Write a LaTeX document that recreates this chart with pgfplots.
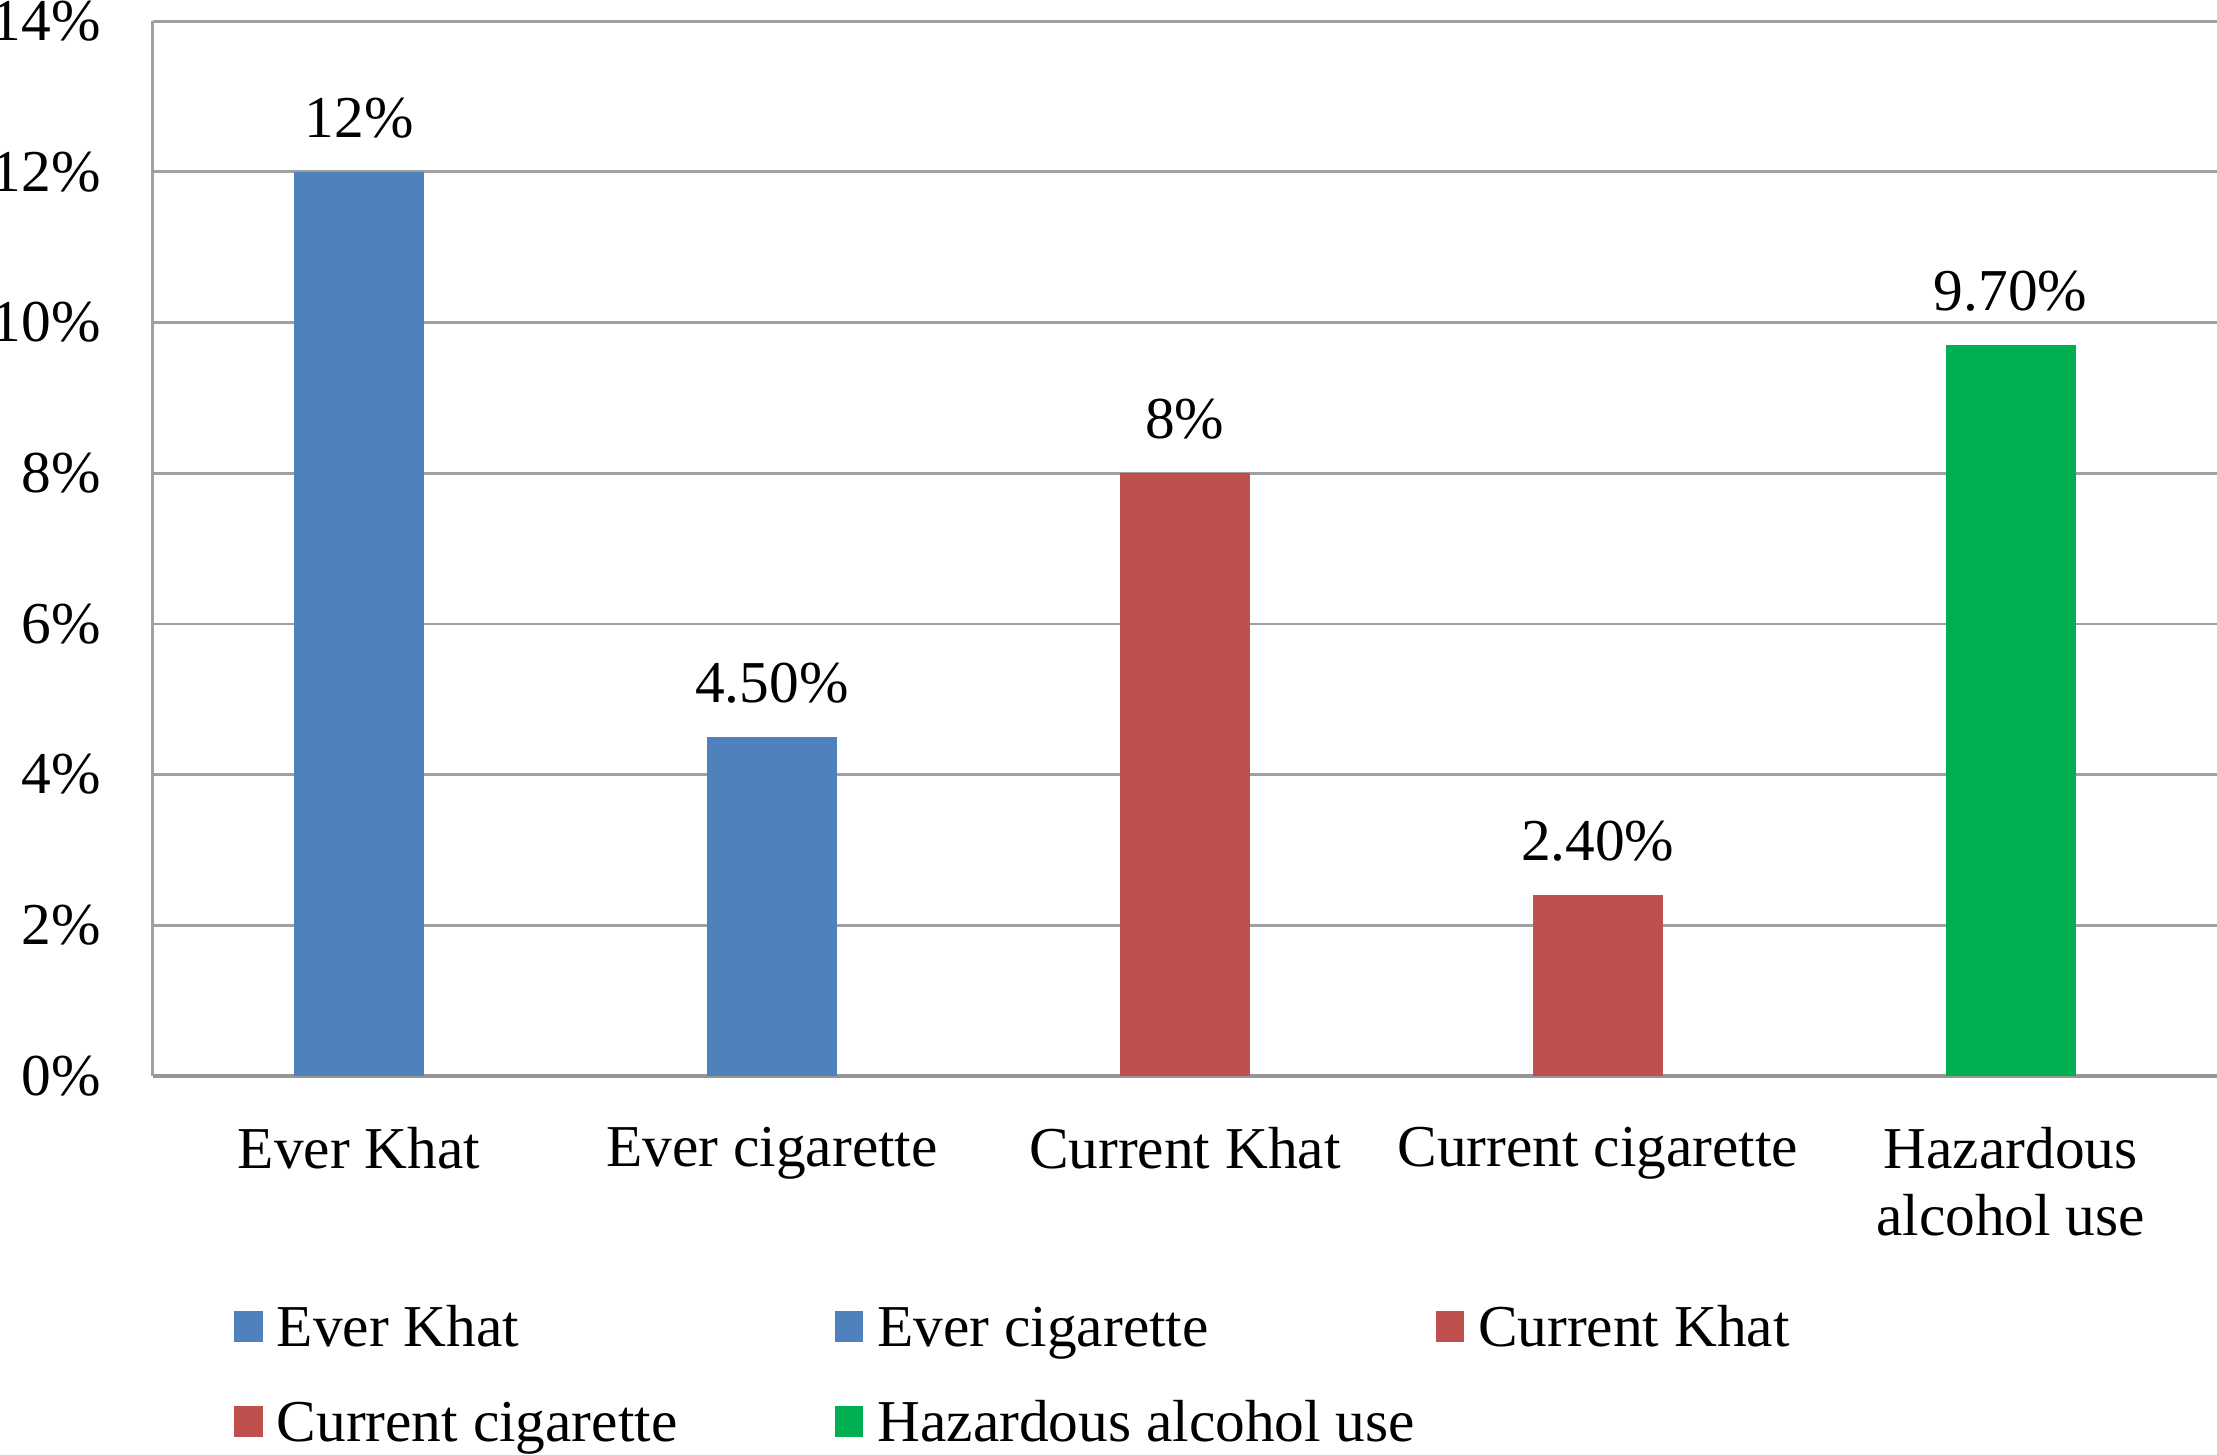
\documentclass[border=0pt]{standalone}
\usepackage{pgfplots}
\pgfplotsset{compat=1.18}
\usepackage{fontspec}
\setmainfont{Liberation Serif}
\definecolor{cblue}{HTML}{4F81BD}
\definecolor{cred}{HTML}{C0504D}
\definecolor{cgreen}{HTML}{00B050}
\definecolor{gridc}{HTML}{A0A0A0}
\definecolor{axisc}{HTML}{969696}
\begin{document}
\fontsize{10.5}{12}\selectfont
\begin{tikzpicture}
\begin{axis}[
  scale only axis, width=365pt, height=186.5pt,
  xmin=-0.5, xmax=4.5, ymin=0, ymax=14,
  ybar, bar width=23pt, bar shift=0pt,
  xtick={0,1,2,3,4},
  xticklabels={Ever Khat, Ever cigarette, Current Khat, Current cigarette, {Hazardous\\alcohol use}},
  xticklabel style={align=center, inner sep=0pt, anchor=north, yshift=-8.8pt, font=\fontsize{10.5}{12}\selectfont},
  ytick={0,2,4,6,8,10,12,14},
  yticklabels={0\%,2\%,4\%,6\%,8\%,10\%,12\%,14\%},
  yticklabel style={inner sep=0pt, anchor=east, xshift=-9pt},
  major tick length=0pt,
  ymajorgrids, grid style={gridc, line width=0.5pt},
  axis lines*=left,
  y axis line style={gridc, line width=0.5pt},
  x axis line style={axisc, line width=0.7pt},
  clip=false,
  point meta=explicit symbolic,
  nodes near coords,
  nodes near coords style={inner sep=0pt, anchor=south, text depth=0pt, yshift=5.9pt, black},
  legend columns=3,
  legend style={draw=none, fill=none, inner sep=0pt, at={(0.039,-0.2126)}, anchor=north west,
    nodes={inner sep=0pt, text height=8pt, text depth=2.5pt},
    /tikz/every odd column/.append style={column sep=2.5pt},
    row sep=6.25pt},
  legend cell align=left,
  legend image code/.code={\fill[#1] (0pt,-2pt) rectangle (5pt,3.5pt);},
]
\addplot[fill=cblue, draw=none] coordinates {(0,12) [12\%]};
\addlegendentry{\makebox[98.7pt][l]{Ever Khat}}
\addplot[fill=cblue, draw=none] coordinates {(1,4.5) [4.50\%]};
\addlegendentry{\makebox[98.7pt][l]{Ever cigarette}}
\addplot[fill=cred, draw=none] coordinates {(2,8) [8\%]};
\addlegendentry{\makebox[98.7pt][l]{Current Khat}}
\addplot[fill=cred, draw=none] coordinates {(3,2.4) [2.40\%]};
\addlegendentry{\makebox[98.7pt][l]{Current cigarette}}
\addplot[fill=cgreen, draw=none] coordinates {(4,9.7) [9.70\%]};
\addlegendentry{\makebox[98.7pt][l]{Hazardous alcohol use}}
\end{axis}
\pgfresetboundingbox
\path[use as bounding box] ([xshift=-27pt,yshift=-67pt]current axis.south west) rectangle ([yshift=3.75pt]current axis.north east);
\end{tikzpicture}
\end{document}
